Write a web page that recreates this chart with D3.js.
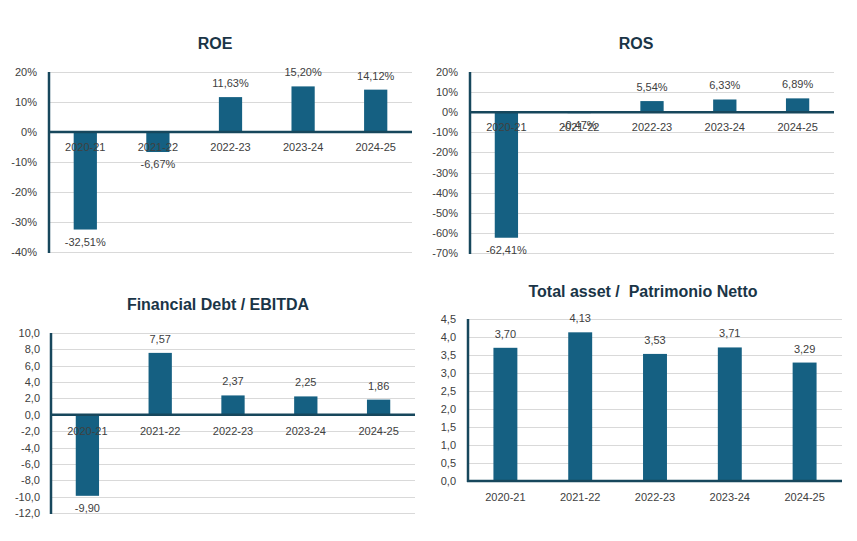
<!DOCTYPE html>
<html>
<head>
<meta charset="utf-8">
<script src="https://cdn.jsdelivr.net/npm/d3@7"></script>
<style>
  body { margin: 0; background: #fff; }
  svg { display: block; }
  text { font-family: "Liberation Sans", Arial, sans-serif; }
</style>
</head>
<body>
<div id="chart"></div>
<script>
// Categories (fiscal years)
const categories = ["2020-21", "2021-22", "2022-23", "2023-24", "2024-25"];

// Series values
const roeValues = [-0.3251, -0.0667, 0.1163, 0.1520, 0.1412];
const rosValues = [-0.6241, -0.0047, 0.0554, 0.0633, 0.0689];
const debtEbitdaValues = [-9.90, 7.57, 2.37, 2.25, 1.86];
const assetEquityValues = [3.70, 4.13, 3.53, 3.71, 3.29];

// Axis ticks
const roeTicks = [0.2, 0.1, 0, -0.1, -0.2, -0.3, -0.4];
const rosTicks = [0.2, 0.1, 0, -0.1, -0.2, -0.3, -0.4, -0.5, -0.6, -0.7];
const debtTicks = [10, 8, 6, 4, 2, 0, -2, -4, -6, -8, -10, -12];
const assetTicks = [4.5, 4, 3.5, 3, 2.5, 2, 1.5, 1, 0.5, 0];

// Italian number formatting, plain hyphen as minus
const it = d3.formatLocale({ decimal: ",", thousands: ".", grouping: [3], currency: ["€", ""], minus: "-" });
const pct0 = d => it.format(".0f")(d * 100) + "%";
const pct2 = d => it.format(".2f")(d * 100) + "%";
const fix1 = it.format(".1f");
const fix2 = it.format(".2f");

const BAR = "#156082";
const AXIS = "#17475c";
const GRID = "#d9d9d9";
const TEXT = "#404040";
const TITLE = "#1a3547";

const svg = d3.select("#chart").append("svg")
  .attr("width", 857)
  .attr("height", 541);

function drawPanel(p) {
  const g = svg.append("g");

  const x = d3.scaleBand()
    .domain(categories)
    .range([p.left, p.right])
    .paddingInner(0.68)
    .paddingOuter(0.34);

  const y = d3.scaleLinear()
    .domain(p.domain)
    .range([p.bottom, p.top]);

  // Title
  g.append("text")
    .attr("x", p.titleX)
    .attr("y", p.titleY)
    .attr("text-anchor", "middle")
    .attr("dominant-baseline", "middle")
    .style("white-space", "pre")
    .style("font-size", p.titleSize + "px")
    .style("font-weight", "700")
    .style("fill", TITLE)
    .text(p.title);

  // Grid lines
  g.append("g")
    .selectAll("line")
    .data(p.ticks)
    .enter().append("line")
    .attr("x1", p.left)
    .attr("x2", p.right)
    .attr("y1", d => Math.round(y(d)) + 0.5)
    .attr("y2", d => Math.round(y(d)) + 0.5)
    .attr("stroke", GRID)
    .attr("stroke-width", 1);

  // Y axis (labels only, line drawn separately)
  const yAxis = g.append("g")
    .attr("transform", `translate(${p.left},0)`)
    .call(d3.axisLeft(y).tickValues(p.ticks).tickFormat(p.tickFormat).tickSize(0).tickPadding(p.tickPad));
  yAxis.select(".domain").remove();
  yAxis.selectAll("text")
    .style("font-family", "'Liberation Sans', Arial, sans-serif")
    .style("font-size", "11px")
    .style("fill", TEXT);

  // Bars
  g.selectAll(".bar")
    .data(p.values)
    .enter().append("rect")
    .attr("class", "bar")
    .attr("x", (d, i) => x(categories[i]))
    .attr("width", x.bandwidth())
    .attr("y", d => y(Math.max(0, d)))
    .attr("height", d => Math.abs(y(d) - y(0)))
    .attr("fill", BAR);

  // Axis lines
  g.append("line")
    .attr("x1", p.left).attr("x2", p.left)
    .attr("y1", y(p.domain[1])).attr("y2", y(p.domain[0]) + 1)
    .attr("stroke", AXIS).attr("stroke-width", 2.5);
  g.append("line")
    .attr("x1", p.left - 1).attr("x2", p.right)
    .attr("y1", y(0)).attr("y2", y(0))
    .attr("stroke", AXIS).attr("stroke-width", 2.5);

  // Category labels
  g.selectAll(".cat")
    .data(categories)
    .enter().append("text")
    .attr("class", "cat")
    .attr("x", d => x(d) + x.bandwidth() / 2)
    .attr("y", y(0) + p.catOffset)
    .attr("text-anchor", "middle")
    .style("font-size", "11px")
    .style("fill", TEXT)
    .text(d => d);

  // Data labels
  g.selectAll(".val")
    .data(p.values)
    .enter().append("text")
    .attr("class", "val")
    .attr("x", (d, i) => x(categories[i]) + x.bandwidth() / 2)
    .attr("y", d => d >= 0 ? y(d) - 10 : y(d) + 16)
    .attr("text-anchor", "middle")
    .style("font-size", "11px")
    .style("fill", TEXT)
    .text(d => p.valueFormat(d));
}

drawPanel({
  title: "ROE", titleX: 215, titleY: 45, titleSize: 16,
  values: roeValues, domain: [-0.4, 0.2], ticks: roeTicks,
  tickFormat: pct0, valueFormat: pct2, tickPad: 12,
  left: 49, right: 412, top: 72, bottom: 252, catOffset: 19
});

drawPanel({
  title: "ROS", titleX: 636, titleY: 45, titleSize: 16,
  values: rosValues, domain: [-0.7, 0.2], ticks: rosTicks,
  tickFormat: pct0, valueFormat: pct2, tickPad: 12,
  left: 470, right: 834, top: 72, bottom: 253, catOffset: 19
});

drawPanel({
  title: "Financial Debt / EBITDA", titleX: 218, titleY: 306, titleSize: 16,
  values: debtEbitdaValues, domain: [-12, 10], ticks: debtTicks,
  tickFormat: fix1, valueFormat: fix2, tickPad: 11,
  left: 51, right: 415, top: 333, bottom: 513, catOffset: 20
});

drawPanel({
  title: "Total asset /  Patrimonio Netto", titleX: 643, titleY: 293, titleSize: 16,
  values: assetEquityValues, domain: [0, 4.5], ticks: assetTicks,
  tickFormat: fix1, valueFormat: fix2, tickPad: 12,
  left: 468, right: 842, top: 319, bottom: 481, catOffset: 20
});
</script>
</body>
</html>
